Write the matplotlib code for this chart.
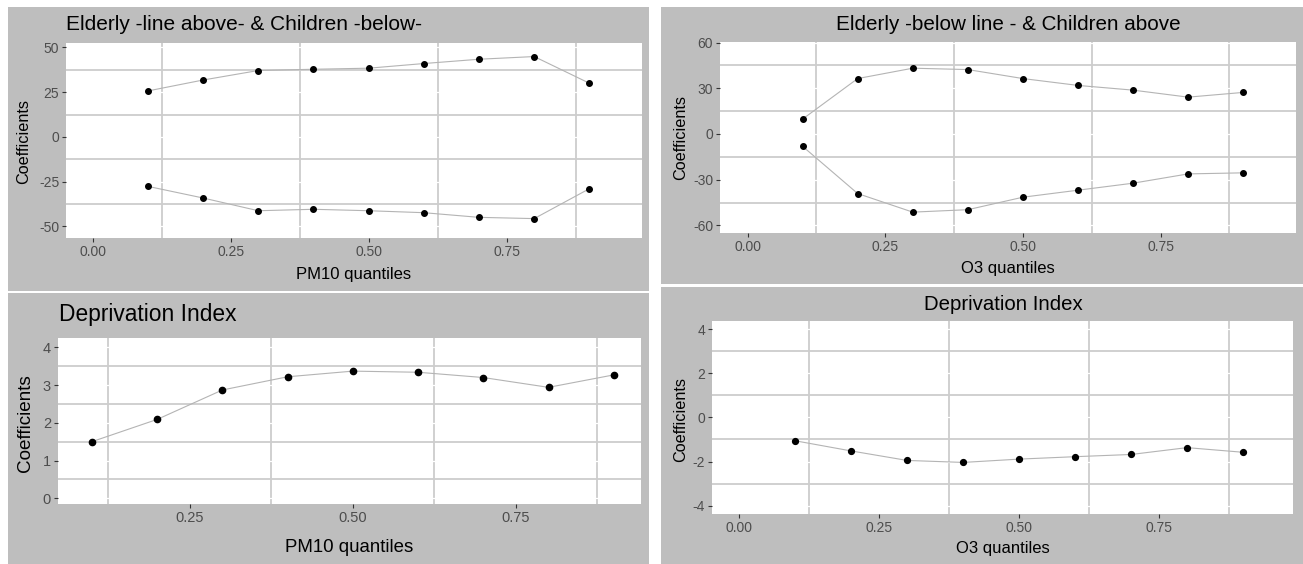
import matplotlib
matplotlib.use("Agg")
import matplotlib.pyplot as plt
from matplotlib.patches import Rectangle

plt.rcParams['font.family'] = ['Liberation Sans', 'DejaVu Sans']

# ---------------- data ----------------
quantiles = [0.1, 0.2, 0.3, 0.4, 0.5, 0.6, 0.7, 0.8, 0.9]

pm10_elderly = [25.7, 31.8, 37.1, 37.8, 38.4, 41.0, 43.4, 44.9, 30.0]
pm10_children = [-27.6, -34.1, -41.2, -40.4, -41.2, -42.3, -44.9, -45.6, -28.9]

o3_children = [9.8, 36.4, 43.2, 42.3, 36.4, 31.9, 28.8, 24.2, 27.3]
o3_elderly = [-8.1, -39.1, -51.3, -49.7, -41.5, -36.9, -32.3, -26.2, -25.5]

pm10_deprivation = [1.50, 2.09, 2.87, 3.22, 3.37, 3.34, 3.20, 2.94, 3.27]
o3_deprivation = [-1.06, -1.52, -1.95, -2.04, -1.89, -1.78, -1.68, -1.37, -1.58]

titles = ["Elderly -line above- & Children -below-",
          "Elderly -below line - & Children above",
          "Deprivation Index",
          "Deprivation Index"]
xlabels = ["PM10 quantiles", "O3 quantiles", "PM10 quantiles", "O3 quantiles"]
ylabel = "Coefficients"

x_major_full = [0.00, 0.25, 0.50, 0.75]
x_major_short = [0.25, 0.50, 0.75]
x_minor = [0.125, 0.375, 0.625, 0.875]

# ---------------- layout ----------------
W, H = 1303, 564
fig = plt.figure(figsize=(W / 100, H / 100), dpi=100)
fig.patch.set_facecolor('white')

BG = '#bebebe'
GRID_MINOR = '#cdcdcd'
LINE_COL = '#b4b4b4'


def fx(x):
    return x / W


def fy(y):
    return 1 - y / H


def bg_rect(x0, y0, x1, y1):
    fig.patches.append(Rectangle((fx(x0), fy(y1)), fx(x1) - fx(x0), fy(y0) - fy(y1),
                                 transform=fig.transFigure, facecolor=BG,
                                 edgecolor='none', zorder=-10))


def make_ax(x0, y0, x1, y1):
    ax = fig.add_axes([fx(x0), fy(y1), fx(x1) - fx(x0), fy(y0) - fy(y1)])
    ax.set_zorder(5)
    return ax


def style_ax(ax, xlim, ylim, xmaj, ymaj, ymin, tick_fs):
    ax.set_facecolor('white')
    for s in ax.spines.values():
        s.set_visible(False)
    ax.set_xlim(*xlim)
    ax.set_ylim(*ylim)
    ax.set_xticks(xmaj)
    ax.set_xticklabels([f"{v:.2f}" for v in xmaj])
    ax.set_yticks(ymaj)
    ax.set_yticklabels([f"{v:g}" for v in ymaj])
    ax.set_xticks(x_minor, minor=True)
    ax.set_yticks(ymin, minor=True)
    ax.tick_params(which='major', length=3, width=0.8, color='#333333',
                   labelcolor='#4d4d4d', labelsize=tick_fs, pad=2)
    ax.tick_params(which='minor', length=0)
    ax.set_axisbelow(True)
    ax.grid(which='minor', color=GRID_MINOR, linewidth=1.3, zorder=0)
    ax.grid(which='major', color='white', linewidth=0.9, zorder=0.5)


def draw_series(ax, ys, ms):
    ax.plot(quantiles, ys, color=LINE_COL, linewidth=0.8, zorder=2)
    ax.plot(quantiles, ys, linestyle='none', marker='o', markersize=ms,
            color='black', zorder=3)


# panel backgrounds
bg_rect(8, 7, 649, 291)
bg_rect(661, 7, 1303, 284)
bg_rect(8, 293, 649, 564)
bg_rect(661, 287, 1303, 564)

# Panel 1: PM10 elderly & children
ax1 = make_ax(66.3, 43.3, 641.8, 238.3)
style_ax(ax1, (-0.048, 0.995), (-56.6, 52.3), x_major_full,
         [-50, -25, 0, 25, 50], [-37.5, -12.5, 12.5, 37.5], 10)
draw_series(ax1, pm10_elderly, 4.0)
draw_series(ax1, pm10_children, 4.0)

# Panel 2: O3 elderly & children
ax2 = make_ax(720, 41.7, 1295.5, 233.3)
style_ax(ax2, (-0.05, 0.995), (-65.2, 60.6), x_major_full,
         [-60, -30, 0, 30, 60], [-45, -15, 15, 45], 10)
draw_series(ax2, o3_children, 4.0)
draw_series(ax2, o3_elderly, 4.0)

# Panel 3: PM10 deprivation
ax3 = make_ax(58, 338.3, 640.5, 504.3)
style_ax(ax3, (0.048, 0.941), (-0.16, 4.24), x_major_short,
         [0, 1, 2, 3, 4], [0.5, 1.5, 2.5, 3.5], 10.5)
draw_series(ax3, pm10_deprivation, 4.5)

# Panel 4: O3 deprivation
ax4 = make_ax(712, 320.7, 1293.4, 514.3)
style_ax(ax4, (-0.0487, 0.99), (-4.39, 4.38), x_major_full,
         [-4, -2, 0, 2, 4], [-3, -1, 1, 3], 10)
draw_series(ax4, o3_deprivation, 4.2)

# titles
fig.text(fx(66.3), fy(25), titles[0], ha='left', va='center', fontsize=15, color='black')
fig.text(fx(1008), fy(25), titles[1], ha='center', va='center', fontsize=14.9, color='black')
fig.text(fx(59), fy(315), titles[2], ha='left', va='center', fontsize=16.4, color='black')
fig.text(fx(1003), fy(305), titles[3], ha='center', va='center', fontsize=14.7, color='black')

# axis labels
fig.text(fx(24), fy(141), ylabel, rotation=90, ha='center', va='center', fontsize=11.7)
fig.text(fx(354), fy(275), xlabels[0], ha='center', va='center', fontsize=12)
fig.text(fx(681), fy(138), ylabel, rotation=90, ha='center', va='center', fontsize=11.7)
fig.text(fx(1008), fy(268), xlabels[1], ha='center', va='center', fontsize=12)
fig.text(fx(26), fy(423), ylabel, rotation=90, ha='center', va='center', fontsize=13.6)
fig.text(fx(349), fy(548), xlabels[2], ha='center', va='center', fontsize=13.4)
fig.text(fx(681), fy(419), ylabel, rotation=90, ha='center', va='center', fontsize=11.7)
fig.text(fx(1003), fy(549), xlabels[3], ha='center', va='center', fontsize=12)

fig.savefig('out.png', dpi=100, facecolor='white')
